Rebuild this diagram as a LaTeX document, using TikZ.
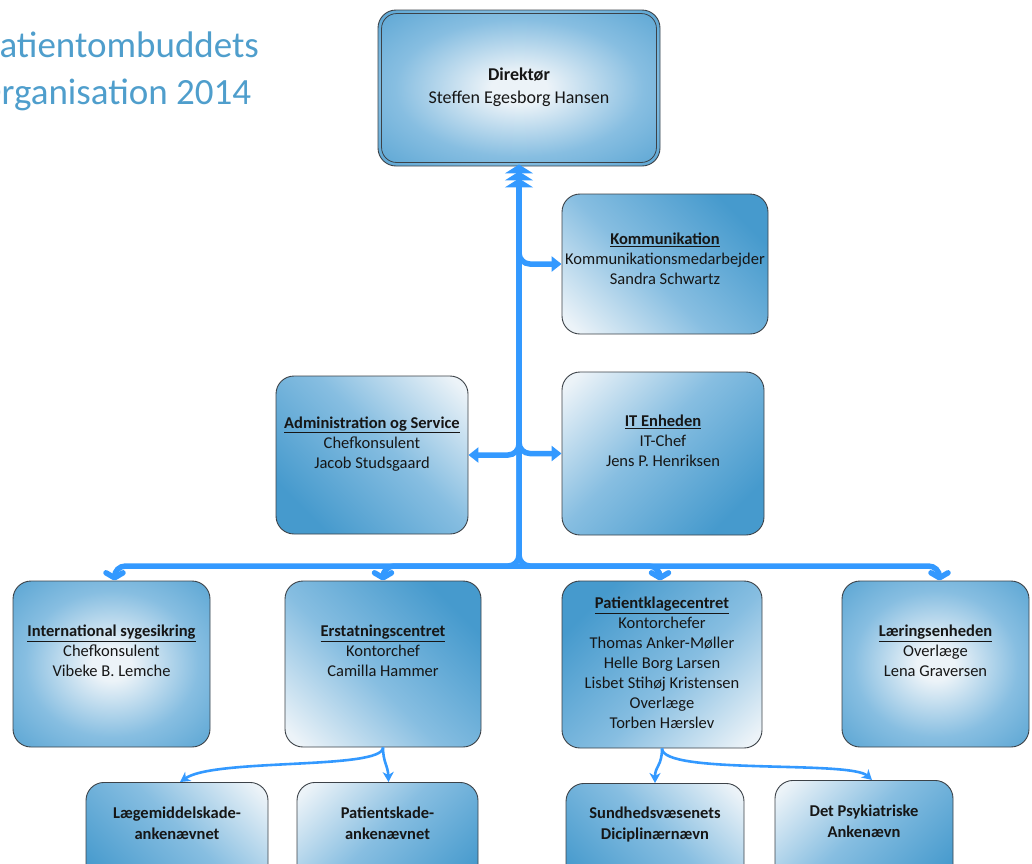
\documentclass[tikz,border=0pt]{standalone}
\usepackage{fontspec}
\setmainfont{Carlito}
\usetikzlibrary{arrows.meta,calc}
\definecolor{boxblue}{RGB}{70,154,205}
\definecolor{boxmid}{RGB}{135,190,225}
\definecolor{boxlight}{RGB}{236,243,248}
\definecolor{boxedge}{RGB}{60,66,72}
\definecolor{linkblue}{RGB}{51,153,255}
\definecolor{titleblue}{RGB}{79,158,204}
\definecolor{textcol}{RGB}{22,22,22}
\pgfdeclarehorizontalshading{cornerlight}{100bp}{color(0bp)=(boxlight); color(18bp)=(boxlight); color(45bp)=(boxmid); color(75bp)=(boxblue); color(100bp)=(boxblue)}
\pgfdeclareradialshading{centerlight}{\pgfpoint{0bp}{0bp}}{color(0bp)=(boxlight); color(5bp)=(boxlight); color(22bp)=(boxmid); color(42bp)=(boxblue); color(50bp)=(boxblue)}
\begin{document}
\begin{tikzpicture}[x=1pt,y=-1pt,
  orgbox/.style={draw=boxedge, line width=0.9pt, rounded corners=18pt, inner sep=0pt},
  radiallight/.style={shading=centerlight},
  lightat/.style={shading=cornerlight, shading angle=#1},
  txt/.style={align=center, text=textcol, inner sep=0pt, font=\fontsize{16.5}{20}\selectfont},
  btxt/.style={align=center, text=textcol, inner sep=0pt, font=\bfseries\fontsize{16.5}{21}\selectfont},
  titletxt/.style={anchor=base west, text=titleblue, inner sep=0pt, font=\fontsize{37}{47}\selectfont},
  trunk/.style={draw=linkblue, line width=5.5pt, rounded corners=11pt},
  thin/.style={draw=linkblue, line width=2.6pt, -{Stealth[length=10pt,width=11pt,inset=3pt]}},
  sidetip/.style={-{Triangle[length=10pt,width=15pt]}},
  barbtip/.style={-{Straight Barb[length=5pt,width=17pt,round]}}
]
\useasboundingbox (0,0) rectangle (1032,863);
\clip (0,0) rectangle (1032,863);

% title
\node[titletxt] (title1) at (-19,57) {Patientombuddets};
\node[titletxt] (title2) at (-23,104) {Organisation 2014};

% boxes
\node[orgbox, radiallight, minimum width=282pt, minimum height=156pt] (dir) at (519,88) {};
\draw[boxedge, line width=0.8pt, rounded corners=15pt]
  ($(dir.north west)+(4,4)$) rectangle ($(dir.south east)+(-4,-4)$);
\node[orgbox, lightat=45, minimum width=206pt, minimum height=140pt] (kom) at (665,264) {};
\node[orgbox, lightat=-135, minimum width=192pt, minimum height=158pt] (adm) at (372,455) {};
\node[orgbox, lightat=-45, minimum width=202pt, minimum height=163pt] (it) at (663,453.5) {};
\node[orgbox, radiallight, minimum width=197pt, minimum height=166pt] (intl) at (111.5,664) {};
\node[orgbox, lightat=45, minimum width=196pt, minimum height=166pt] (erst) at (383,664) {};
\node[orgbox, lightat=135, minimum width=200pt, minimum height=167pt] (pkc) at (662,664.5) {};
\node[orgbox, radiallight, minimum width=187pt, minimum height=166pt] (laer) at (935.5,664) {};
\node[orgbox, lightat=-135, minimum width=182pt, minimum height=130pt, anchor=north] (laeg) at (177,782) {};
\node[orgbox, lightat=-45, minimum width=181pt, minimum height=130pt, anchor=north] (pskade) at (387.5,782) {};
\node[orgbox, lightat=-135, minimum width=178pt, minimum height=130pt, anchor=north] (sund) at (655,783) {};
\node[orgbox, lightat=-45, minimum width=178pt, minimum height=130pt, anchor=north] (psyk) at (864,780) {};

% texts
\node[txt, font=\fontsize{18}{23}\selectfont] (dirtxt) at (519,87) {\textbf{Direktør}\\Steffen Egesborg Hansen};
\node[txt] (komtxt) at (665,259) {\textbf{\underline{Kommunikation}}\\Kommunikationsmedarbejder\\Sandra Schwartz};
\node[txt] (admtxt) at (372,444) {\textbf{\underline{Administration og Service}}\\Chefkonsulent\\Jacob Studsgaard};
\node[txt] (ittxt) at (663,441) {\textbf{\underline{IT Enheden}}\\IT-Chef\\Jens P. Henriksen};
\node[txt] (intltxt) at (111.5,651) {\textbf{\underline{International sygesikring}}\\Chefkonsulent\\Vibeke B. Lemche};
\node[txt] (ersttxt) at (383,651) {\textbf{\underline{Erstatningscentret}}\\Kontorchef\\Camilla Hammer};
\node[txt] (pkctxt) at (662,663) {\textbf{\underline{Patientklagecentret}}\\Kontorchefer\\Thomas Anker-Møller\\Helle Borg Larsen\\Lisbet Stihøj Kristensen\\Overlæge\\Torben Hærslev};
\node[txt] (laertxt) at (935.5,651) {\textbf{\underline{Læringsenheden}}\\Overlæge\\Lena Graversen};
\node[btxt] (laegtxt) at (177,823) {Lægemiddelskade-\\ankenævnet};
\node[btxt] (pskadetxt) at (387.5,823) {Patientskade-\\ankenævnet};
\node[btxt] (sundtxt) at (655,824) {Sundhedsvæsenets\\Diciplinærnævn};
\node[btxt] (psyktxt) at (864,821) {Det Psykiatriske\\Ankenævn};

% main connectors
\coordinate (hub) at (519,566);
\draw[trunk, {Triangle[length=9pt,width=28pt,sep=-2pt]Triangle[length=9pt,width=28pt,sep=-2pt]Triangle[length=9pt,width=28pt,sep=-2pt]}-{Triangle[length=10pt,width=15pt]}] (dir.south) |- (kom.west);
\draw[trunk, sidetip] (dir.south) |- (adm.east);
\draw[trunk, sidetip] (dir.south) |- (it.west);
\draw[trunk, barbtip] (dir.south) -- (hub) -| ([xshift=3pt]intl.north);
\draw[trunk, barbtip] (dir.south) -- (hub) -| ([xshift=4pt]laer.north);
\draw[trunk, barbtip] (hub) -| (erst.north);
\draw[trunk, barbtip] (hub) -| ([xshift=-2pt]pkc.north);

% lower connectors
\draw[thin] (erst.south) .. controls (383,770) and (215,758) .. ([xshift=3pt]laeg.north);
\draw[thin] (erst.south) .. controls (383,762) and (388,766) .. ([xshift=1pt]pskade.north);
\draw[thin] (pkc.south) .. controls (662,766) and (655,766) .. (sund.north);
\draw[thin] (pkc.south) .. controls (662,775) and (850,760) .. ([xshift=8pt]psyk.north);
\end{tikzpicture}
\end{document}
